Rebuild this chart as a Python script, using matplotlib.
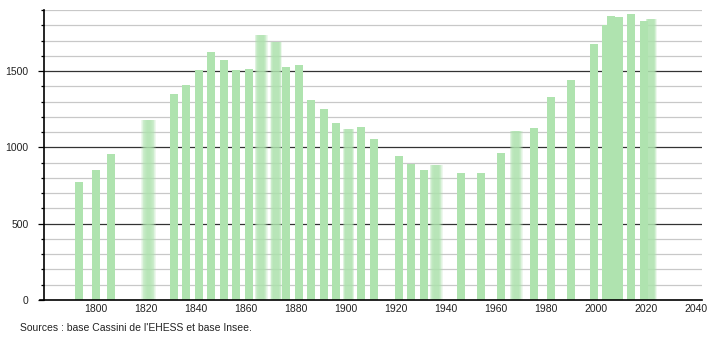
import matplotlib
matplotlib.use("Agg")
import matplotlib.pyplot as plt
import numpy as np

years = [1793, 1800, 1806, 1821, 1831, 1836, 1841, 1846, 1851, 1856, 1861, 1866,
         1872, 1876, 1881, 1886, 1891, 1896, 1901, 1906, 1911, 1921, 1926, 1931,
         1936, 1946, 1954, 1962, 1968, 1975, 1982, 1990, 1999, 2004, 2006, 2009,
         2014, 2019, 2022]
population = [774, 849, 954, 1178, 1349, 1408, 1509, 1627, 1572, 1506, 1513, 1737,
              1693, 1528, 1542, 1311, 1250, 1158, 1118, 1134, 1057, 943, 888, 849,
              882, 829, 833, 965, 1107, 1125, 1333, 1439, 1678, 1800, 1860, 1853,
              1872, 1831, 1838]
x_ticks = [1800, 1820, 1840, 1860, 1880, 1900, 1920, 1940, 1960, 1980, 2000, 2020, 2040]
y_ticks = [0, 500, 1000, 1500]
source_text = "Sources : base Cassini de l'EHESS et base Insee."

# years drawn with a soft (blurred) edge in the reference
blurred = {1821: 1.4, 1866: 1.0, 1872: 0.7, 1901: 0.6, 1936: 1.0, 1968: 1.0, 2022: 0.6}

plt.rcParams['font.family'] = ['Liberation Sans', 'DejaVu Sans']

fig = plt.figure(figsize=(7.1, 3.4), dpi=100)
ax = fig.add_axes([44 / 710, 1 - 300 / 340, (702 - 44) / 710, 290 / 340])

bar_color = '#afe3af'
width = 3.2

# grid
for v in range(100, 2000, 100):
    if v % 500 == 0:
        ax.axhline(v, color='#333333', lw=0.9, zorder=1)
    else:
        ax.axhline(v, color='#c8c8c8', lw=0.9, zorder=1)

for yr, p in zip(years, population):
    b = blurred.get(yr, 0)
    if b:
        n = 8
        for w in np.linspace(width + 2 * b, width - 1.2 * b, n):
            ax.bar(yr, p, width=w, color=bar_color, alpha=0.22, lw=0, zorder=2)
    else:
        ax.bar(yr, p, width=width, color=bar_color, lw=0, zorder=2)

ax.set_xlim(1779.2, 2042.4)
ax.set_ylim(0, 1900)

ax.set_xticks(x_ticks)
ax.set_xticklabels([str(t) for t in x_ticks], fontsize=7.5, color='#222222')
ax.tick_params(axis='x', length=0, pad=3)

ax.set_yticks(y_ticks)
ax.set_yticklabels([str(t) for t in y_ticks], fontsize=7.5, color='#222222')
ax.set_yticks(range(100, 2000, 100), minor=True)
ax.tick_params(axis='y', which='major', length=4, width=0.9, pad=7, color='black')
ax.tick_params(axis='y', which='minor', length=2, width=0.9, color='black')

for s in ['top', 'right']:
    ax.spines[s].set_visible(False)
ax.spines['left'].set_linewidth(1.2)
ax.spines['bottom'].set_linewidth(1.2)
ax.spines['bottom'].set_bounds(1777.5, 2042.4)
ax.spines['bottom'].set_zorder(3)

fig.text(20 / 710, 1 - 328 / 340, source_text, fontsize=7.5, color='#222222',
         ha='left', va='center')

fig.savefig('out.png', dpi=100)
